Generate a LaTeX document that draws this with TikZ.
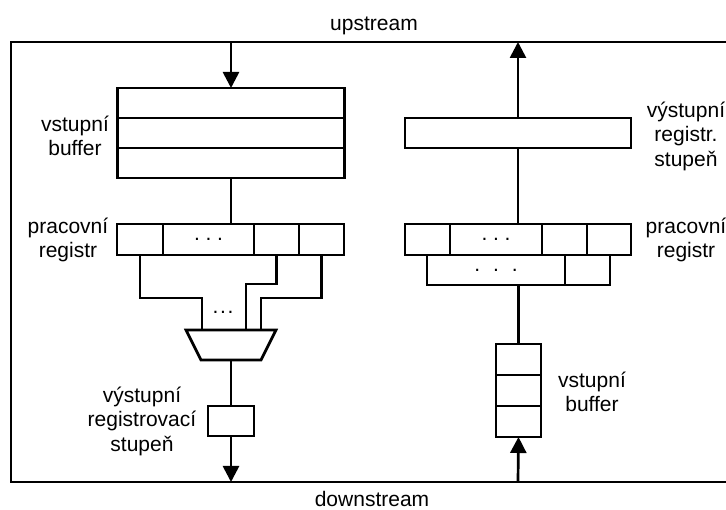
\documentclass[tikz,border=0pt]{standalone}
\usepackage{fontspec}
\setmainfont{Liberation Sans}
\usetikzlibrary{positioning,arrows.meta}

\newcommand{\regdots}[1]{.\hspace{#1}.\hspace{#1}.}

\begin{document}
\begin{tikzpicture}[x=1pt,y=-1pt,line width=2.7pt,node distance=0pt,
  cell/.style={draw,rectangle,inner sep=0pt,outer sep=0pt,minimum height=30pt,font=\fontsize{21}{24.5}\selectfont},
  lbl/.style={align=center,inner sep=0pt,font=\fontsize{21}{24.5}\selectfont},
  flow/.style={-{Triangle[length=16pt,width=16pt]}}]
\useasboundingbox (0,0) rectangle (726,510);

% frame
\draw (726,42) -- (11,42) -- (11,482) -- (726,482);
\node[lbl] (up) at (374,26) {upstream};
\node[lbl] (down) at (372,499) {downstream};
\coordinate (lin) at (231,42);
\coordinate (lout) at (231,482);
\coordinate (rout) at (518,42);
\coordinate (rin) at (518,482);

% left: input buffer
\node[cell,minimum width=227pt] (lb1) at (231,103) {};
\node[cell,minimum width=227pt,below=of lb1] (lb2) {};
\node[cell,minimum width=227pt,below=of lb2] (lb3) {};
\node[lbl] (lbtxt) at (75,136) {vstupní\\buffer};

% left: working register
\node[cell,minimum width=46pt,minimum height=31pt] (lr1) at (140,239.5) {};
\node[cell,minimum width=91pt,minimum height=31pt,right=of lr1] (lr2) {\regdots{5.6pt}};
\node[cell,minimum width=45pt,minimum height=31pt,right=of lr2] (lr3) {};
\node[cell,minimum width=45pt,minimum height=31pt,right=of lr3] (lr4) {};
\node[lbl] (lrtxt) at (68,240) {pracovní\\registr};

% left: multiplexer
\node[inner sep=0pt,outer sep=0pt,minimum width=90pt,minimum height=30pt] (mux) at (231,345) {};
\draw (mux.north west) -- (mux.north east) -- ([xshift=-15pt]mux.south east)
  -- ([xshift=15pt]mux.south west) -- cycle;
\node[lbl] (mdots) at (223,312) {\regdots{1.6pt}};

% left: output stage
\node[cell,minimum width=46pt] (lo) at (231,421) {};
\node[lbl] (lotxt) at (142,421) {výstupní\\registrovací\\stupeň};

\draw[flow] (lin) -- (lb1.north);
\draw (lb3.south) -- (lb3.south |- lr1.north);
\draw (lr1.south) -- ++(0,43) -| ([xshift=-29pt]mux.north);
\draw (lr3.south) -- ++(0,29) -| ([xshift=15pt]mux.north);
\draw (lr4.south) -- ++(0,43) -| ([xshift=30pt]mux.north);
\draw (mux.south) -- (lo.north);
\draw[flow] (lo.south) -- (lout);

% right: output stage
\node[cell,minimum width=226pt] (ro) at (518,133) {};
\node[lbl] (rotxt) at (686,136) {výstupní\\registr.\\stupeň};

% right: working register, two rows
\node[cell,minimum width=45pt,minimum height=31pt] (rr1) at (427.5,239.5) {};
\node[cell,minimum width=92pt,minimum height=31pt,right=of rr1] (rr2) {\regdots{5.6pt}};
\node[cell,minimum width=45pt,minimum height=31pt,right=of rr2] (rr3) {};
\node[cell,minimum width=44pt,minimum height=31pt,right=of rr3] (rr4) {};
\node[cell,minimum width=138pt] (rr5) at (496,270) {\regdots{13pt}};
\node[cell,minimum width=45pt,right=of rr5] (rr6) {};
\node[lbl] (rrtxt) at (686,240) {pracovní\\registr};

% right: input buffer
\node[cell,minimum width=45pt,minimum height=31pt] (rb1) at (518.5,359.5) {};
\node[cell,minimum width=45pt,minimum height=31pt,below=of rb1] (rb2) {};
\node[cell,minimum width=45pt,minimum height=31pt,below=of rb2] (rb3) {};
\node[lbl] (rbtxt) at (592,392) {vstupní\\buffer};

\draw[flow] (rin) -- (rb3.south);
\draw (rb1.north) -- (rb1.north |- rr5.south);
\draw (ro.south) -- (ro.south |- rr1.north);
\draw[flow] (ro.north) -- (rout);

\end{tikzpicture}
\end{document}
